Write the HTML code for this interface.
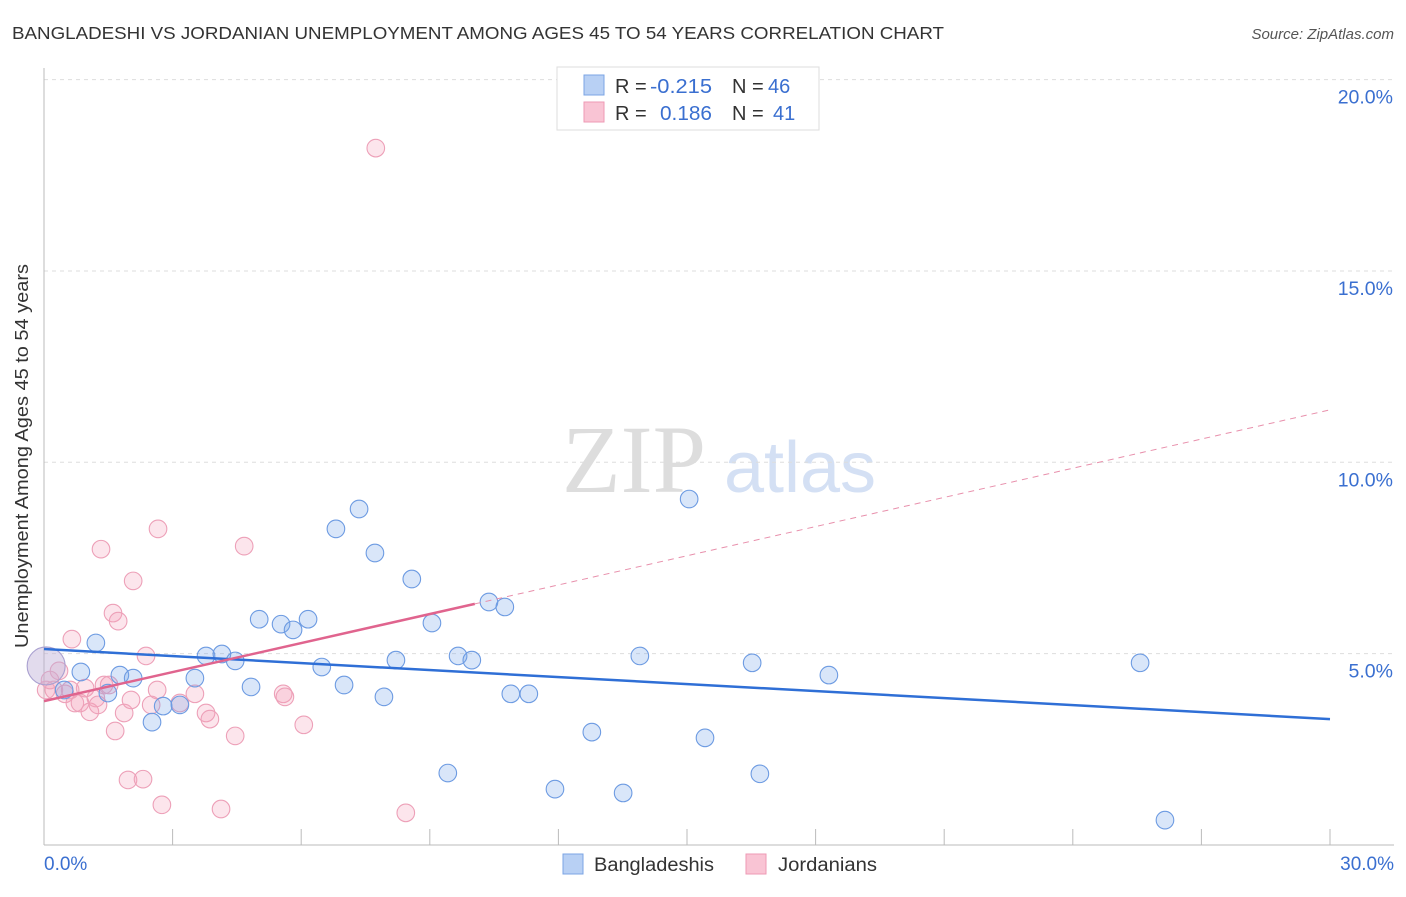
<!DOCTYPE html>
<html><head><meta charset="utf-8"><style>
body{margin:0;background:#fff;font-family:"Liberation Sans",sans-serif}
svg text{font-family:"Liberation Sans",sans-serif}
</style></head><body>
<svg id="c" width="1406" height="892">
<text x="12" y="39" font-size="17.5" fill="#333" textLength="932" lengthAdjust="spacingAndGlyphs">BANGLADESHI VS JORDANIAN UNEMPLOYMENT AMONG AGES 45 TO 54 YEARS CORRELATION CHART</text>
<text x="1394" y="39" font-size="15" fill="#555" font-style="italic" text-anchor="end">Source: ZipAtlas.com</text>
<text x="28" y="456" font-size="18" fill="#333" text-anchor="middle" textLength="384" lengthAdjust="spacingAndGlyphs" transform="rotate(-90 28 456)">Unemployment Among Ages 45 to 54 years</text>
<g><text x="634" y="492" font-size="96" fill="#ddd" text-anchor="middle" style="font-family:'Liberation Serif',serif">ZIP</text><text x="800" y="492" font-size="72" fill="#d4e0f4" text-anchor="middle">atlas</text></g>
<g id="grid"></g><g id="axes"></g><g id="marks"></g>
<g>
<rect x="557" y="67" width="262" height="63" fill="#fff" stroke="#ddd"/>
<rect x="584" y="75" width="20" height="20" fill="#b8d0f4" stroke="#7ba4e4"/>
<rect x="584" y="102" width="20" height="20" fill="#f9c4d4" stroke="#ee9ab4"/>
<text x="615" y="93" font-size="20" fill="#333">R = </text><text x="650" y="93" font-size="20" fill="#3a6fd0" textLength="62" lengthAdjust="spacingAndGlyphs">-0.215</text>
<text x="732" y="93" font-size="20" fill="#333">N = </text><text x="768" y="93" font-size="20" fill="#3a6fd0">46</text>
<text x="615" y="120" font-size="20" fill="#333">R = </text><text x="660" y="120" font-size="20" fill="#3a6fd0" textLength="52" lengthAdjust="spacingAndGlyphs">0.186</text>
<text x="732" y="120" font-size="20" fill="#333">N = </text><text x="773" y="120" font-size="20" fill="#3a6fd0">41</text>
</g>
<g>
<rect x="563" y="854" width="20" height="20" fill="#b8d0f4" stroke="#7ba4e4"/>
<text x="594" y="871" font-size="19" fill="#333" textLength="120" lengthAdjust="spacingAndGlyphs">Bangladeshis</text>
<rect x="746" y="854" width="20" height="20" fill="#f9c4d4" stroke="#ee9ab4"/>
<text x="778" y="871" font-size="19" fill="#333" textLength="99" lengthAdjust="spacingAndGlyphs">Jordanians</text>
</g>
</svg>
<script>
const xTicks=[0,3,6,9,12,15,18,21,24,27,30];
const yTicks=[5,10,15,20];
const yTickLabels=["5.0%","10.0%","15.0%","20.0%"];
const blueX=[0.05,0.86,1.21,1.49,1.77,2.08,2.52,2.78,3.17,3.52,3.78,4.15,4.46,4.83,5.02,5.53,5.81,6.16,6.48,6.81,7.00,7.35,7.72,7.93,8.21,8.58,9.05,9.42,9.66,9.98,10.38,10.75,10.89,11.31,11.92,12.78,13.51,13.90,15.05,15.42,16.52,16.70,18.31,25.57,26.15,0.47];
const blueY=[4.68,4.52,5.28,3.97,4.44,4.36,3.21,3.63,3.66,4.36,4.94,4.99,4.81,4.13,5.90,5.77,5.62,5.90,4.65,8.26,4.18,8.78,7.63,3.87,4.83,6.95,5.80,1.88,4.94,4.83,6.35,6.22,3.95,3.95,1.46,2.95,1.36,4.94,9.04,2.80,4.76,1.86,4.44,4.76,0.65,4.05];
const pinkX=[0.05,0.23,0.35,0.49,0.65,0.72,0.84,0.96,1.07,1.21,1.33,1.40,1.52,1.66,1.61,1.73,1.87,2.03,2.08,1.96,2.31,2.38,2.50,2.64,2.66,2.75,3.17,3.52,3.78,3.87,4.13,4.46,4.67,5.58,5.62,6.06,7.74,8.44,0.61,0.14,1.26];
const pinkY=[4.05,4.05,4.55,3.95,5.38,3.71,3.71,4.10,3.48,3.84,7.73,4.18,4.18,2.98,6.06,5.85,3.45,3.79,6.90,1.70,1.72,4.94,3.66,4.05,8.26,1.05,3.71,3.95,3.45,3.29,0.94,2.85,7.81,3.95,3.87,3.14,18.21,0.84,4.05,4.31,3.66];
const blueTrend=[[0,5.12],[30,3.29]];
const pinkTrend=[[0,3.76],[10.05,6.30]];
const pinkDash=[[10.05,6.30],[30,11.37]];
const X=v=>44+v*(1286/30), Y=v=>845-v*38.27;
const NS="http://www.w3.org/2000/svg";
function mk(t,a,p){const e=document.createElementNS(NS,t);for(const k in a)e.setAttribute(k,a[k]);p.appendChild(e);return e;}
const grid=document.getElementById('grid'),axes=document.getElementById('axes'),marks=document.getElementById('marks');
yTicks.forEach((v,i)=>{const l=mk('line',{x1:44,x2:1394,y1:Y(v),y2:Y(v),stroke:'#ddd','stroke-dasharray':'4,4'},grid);


const t=mk('text',{x:1393,y:Y(v)+24,'font-size':19.5,fill:'#3a6fd0','text-anchor':'end'},axes);t.textContent=yTickLabels[i];

});
const ax=mk('line',{x1:44,x2:1394,y1:845,y2:845,stroke:'#bbb'},axes);


const ay=mk('line',{x1:44,x2:44,y1:68,y2:845,stroke:'#bbb'},axes);


xTicks.forEach(v=>{if(v===0)return;const l=mk('line',{x1:X(v),x2:X(v),y1:829,y2:845,stroke:'#bbb'},axes);

});
const t0=mk('text',{x:44,y:870,'font-size':19,fill:'#3a6fd0'},axes);t0.textContent='0.0%';


const t1=mk('text',{x:1394,y:870,'font-size':19,fill:'#3a6fd0','text-anchor':'end'},axes);t1.textContent='30.0%';


function dots(xs,ys,fill,stroke,name){xs.forEach((x,i)=>{const big=(i===0&&name==='bangladeshi-point');
const c=mk('circle',{cx:X(x),cy:Y(ys[i]),r:big?19:8.8,fill:big?'rgba(190,175,215,0.45)':fill,stroke:big?'#a9a0d0':stroke,'stroke-width':1.1},marks);

});}
dots(pinkX,pinkY,'rgba(244,160,188,0.28)','#eda0b8','jordanian-point');
dots(blueX,blueY,'rgba(120,165,235,0.28)','#6d9be2','bangladeshi-point');
function line(p,col,w,dash,name){const l=mk('line',{x1:X(p[0][0]),y1:Y(p[0][1]),x2:X(p[1][0]),y2:Y(p[1][1]),stroke:col,'stroke-width':w},marks);
if(dash)l.setAttribute('stroke-dasharray',dash);

}
line(blueTrend,'#2f6fd6',2.5,null,'bangladeshi-trendline');
line(pinkTrend,'#e0648e',2.5,null,'jordanian-trendline');
line(pinkDash,'#e890ac',1,'6,5','jordanian-trendline-extension');
</script>
</body></html>
